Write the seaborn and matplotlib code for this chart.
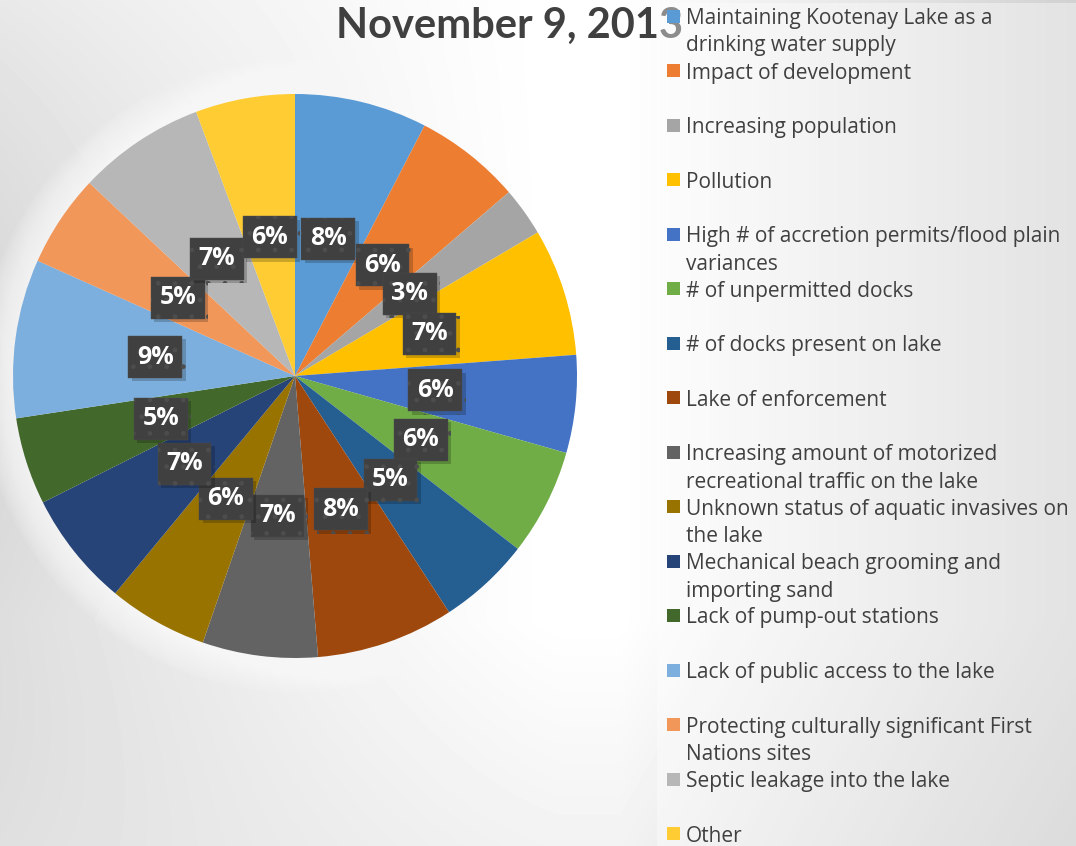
import numpy as np
import matplotlib
matplotlib.use("Agg")
import matplotlib.pyplot as plt
import matplotlib.patheffects as pe
from matplotlib.patches import Rectangle, Circle
import seaborn as sns

# issues raised at the meeting, share of responses
issues = [
    "Maintaining Kootenay Lake as a\ndrinking water supply",
    "Impact of development",
    "Increasing population",
    "Pollution",
    "High # of accretion permits/flood plain\nvariances",
    "# of unpermitted docks",
    "# of docks present on lake",
    "Lake of enforcement",
    "Increasing amount of motorized\nrecreational traffic on the lake",
    "Unknown status of aquatic invasives on\nthe lake",
    "Mechanical beach grooming and\nimporting sand",
    "Lack of pump-out stations",
    "Lack of public access to the lake",
    "Protecting culturally significant First\nNations sites",
    "Septic leakage into the lake",
    "Other",
]
shares = [7.6, 6.1, 2.8, 7.3, 5.6, 6.1, 5.3, 7.9, 6.6, 5.7, 6.6, 5.0, 9.1, 5.3, 7.3, 5.7]
colors = ["#5B9BD5", "#ED7D31", "#A5A5A5", "#FFC000", "#4472C4", "#70AD47",
          "#255E91", "#9E480E", "#636363", "#997300", "#264478", "#43682B",
          "#7CAFDD", "#F1975A", "#B7B7B7", "#FFCD33"]
title = "November 9, 2013"

sns.set_theme(style="white")
plt.rcParams["font.family"] = ["Open Sans", "DejaVu Sans"]
plt.rcParams["hatch.linewidth"] = 1.0

W, H = 1076, 846
fig = plt.figure(figsize=(W / 100, H / 100), dpi=100)

# background: soft gray gradient, white in the middle
bg = fig.add_axes([0, 0, 1, 1], zorder=0)
xx, yy = np.meshgrid(np.arange(W), np.arange(H))
left = 0.15 * np.clip(1 - xx / 560, 0, 1) ** 1.2 * (1 - 0.45 * ((yy - 400) / 420) ** 2)
right = 0.18 * np.clip((xx - 620) / 456, 0, 1)
low = 0.05 * np.clip((yy - 620) / 226, 0, 1)
shade = 1 - (left + right + low)
bg.imshow(shade, cmap="gray", vmin=0, vmax=1, extent=(0, W, H, 0), aspect="auto")
bg.set_xlim(0, W)
bg.set_ylim(H, 0)
bg.axis("off")
bg.text(510, 38, title, ha="center", va="baseline", fontsize=30,
        fontweight="bold", color="#404040", family=["Lato", "DejaVu Sans"])

# pie
r_px = 282
half = 290
ax = fig.add_axes([(295 - half) / W, (H - 376 - half) / H, 2 * half / W, 2 * half / H], zorder=1)
for k in range(1, 12):
    ax.add_patch(Circle((0, 0), 1 + 0.011 * k, fc="white", alpha=0.1, lw=0,
                        zorder=0, clip_on=False))
wedges, texts, autotexts = ax.pie(
    shares, colors=sns.color_palette(colors), startangle=90, counterclock=False,
    autopct="%1.0f%%", pctdistance=0.5,
    wedgeprops=dict(linewidth=0),
    textprops=dict(color="white", fontsize=18, fontweight="bold",
                   bbox=dict(boxstyle="square,pad=0.34", facecolor="#404040",
                             edgecolor="#4d4d4d", linewidth=0.3, hatch=".")),
)
for t in autotexts:
    t.get_bbox_patch().set_path_effects(
        [pe.SimplePatchShadow(offset=(2.5, -2.5), shadow_rgbFace="black", alpha=0.2), pe.Normal()])
lim = half / r_px
ax.set_xlim(-lim, lim)
ax.set_ylim(-lim, lim)

# legend panel, drawn by hand so wrapped entries keep Excel-like spacing
ov = fig.add_axes([0, 0, 1, 1], zorder=2)
ov.set_xlim(0, W)
ov.set_ylim(H, 0)
ov.axis("off")
ov.add_patch(Rectangle((657, 3), W - 657, H - 3, fc="white", alpha=0.4, lw=0))
for i, (lab, col) in enumerate(zip(issues, colors)):
    yc = 16.5 + 54.5 * i
    ov.add_patch(Rectangle((667, yc - 6.5), 13, 13, fc=col, lw=0))
    for j, line in enumerate(lab.split("\n")):
        ov.text(686, yc + 7.5 + 27.5 * j, line, ha="left", va="baseline",
                fontsize=15, color="#404040")

fig.savefig("out.png", dpi=100)
